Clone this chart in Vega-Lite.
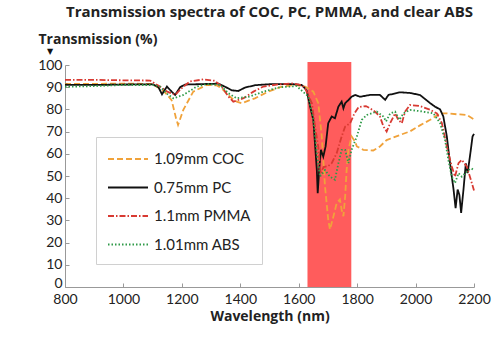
{
  "$schema": "https://vega.github.io/schema/vega-lite/v6.json",
  "width": 409,
  "height": 222,
  "autosize": {"type": "none"},
  "padding": {"left": 65, "top": 65, "right": 26, "bottom": 65},
  "background": "white",
  "title": {"text": "Transmission spectra of COC, PC, PMMA, and clear ABS", "font": "Open Sans", "fontSize": 15, "fontWeight": "bold", "color": "#222", "anchor": "middle", "frame": "group", "offset": 12},
  "config": {
    "view": {"stroke": null},
    "axis": {"labelFont": "Lato", "labelFontSize": 14, "labelColor": "#222", "domainColor": "#999", "tickColor": "#999", "grid": false, "titleFont": "Open Sans", "titleFontWeight": "bold", "titleColor": "#222", "titleFontSize": 14, "labelOverlap": false, "labelFlush": false}
  },
  "datasets": {
    "band": [{"start": 1630, "end": 1780, "low": 0, "high": 101.3}],
    "marker": [{"label": "▼", "wl": 800, "t": 100}],
    "spectra": [
      {"series": "1.09mm COC", "wl": 800, "t": 91.5}, {"series": "1.09mm COC", "wl": 900, "t": 91.5}, {"series": "1.09mm COC", "wl": 1000, "t": 91.6}, {"series": "1.09mm COC", "wl": 1100, "t": 91.5}, {"series": "1.09mm COC", "wl": 1114, "t": 90.2}, {"series": "1.09mm COC", "wl": 1140, "t": 88}, {"series": "1.09mm COC", "wl": 1165, "t": 84.2}, {"series": "1.09mm COC", "wl": 1180, "t": 76}, {"series": "1.09mm COC", "wl": 1187, "t": 73}, {"series": "1.09mm COC", "wl": 1195, "t": 76}, {"series": "1.09mm COC", "wl": 1205, "t": 79.8}, {"series": "1.09mm COC", "wl": 1239, "t": 88}, {"series": "1.09mm COC", "wl": 1285, "t": 91}, {"series": "1.09mm COC", "wl": 1320, "t": 90.8}, {"series": "1.09mm COC", "wl": 1336, "t": 89.5}, {"series": "1.09mm COC", "wl": 1371, "t": 85}, {"series": "1.09mm COC", "wl": 1388, "t": 83.5}, {"series": "1.09mm COC", "wl": 1405, "t": 82.8}, {"series": "1.09mm COC", "wl": 1450, "t": 85}, {"series": "1.09mm COC", "wl": 1496, "t": 88}, {"series": "1.09mm COC", "wl": 1542, "t": 90.3}, {"series": "1.09mm COC", "wl": 1587, "t": 91}, {"series": "1.09mm COC", "wl": 1622, "t": 90.3}, {"series": "1.09mm COC", "wl": 1650, "t": 88}, {"series": "1.09mm COC", "wl": 1667, "t": 82.8}, {"series": "1.09mm COC", "wl": 1679, "t": 67.8}, {"series": "1.09mm COC", "wl": 1690, "t": 45.3}, {"series": "1.09mm COC", "wl": 1701, "t": 30.3}, {"series": "1.09mm COC", "wl": 1707, "t": 25.9}, {"series": "1.09mm COC", "wl": 1719, "t": 31.9}, {"series": "1.09mm COC", "wl": 1730, "t": 37.8}, {"series": "1.09mm COC", "wl": 1741, "t": 39.4}, {"series": "1.09mm COC", "wl": 1747, "t": 34.8}, {"series": "1.09mm COC", "wl": 1753, "t": 31.9}, {"series": "1.09mm COC", "wl": 1759, "t": 40.8}, {"series": "1.09mm COC", "wl": 1764, "t": 52.7}, {"series": "1.09mm COC", "wl": 1770, "t": 61.8}, {"series": "1.09mm COC", "wl": 1781, "t": 67.8}, {"series": "1.09mm COC", "wl": 1793, "t": 65.5}, {"series": "1.09mm COC", "wl": 1799, "t": 63.3}, {"series": "1.09mm COC", "wl": 1810, "t": 62.6}, {"series": "1.09mm COC", "wl": 1821, "t": 61.8}, {"series": "1.09mm COC", "wl": 1855, "t": 61.5}, {"series": "1.09mm COC", "wl": 1878, "t": 63.3}, {"series": "1.09mm COC", "wl": 1901, "t": 66.2}, {"series": "1.09mm COC", "wl": 1947, "t": 68.5}, {"series": "1.09mm COC", "wl": 1981, "t": 70.1}, {"series": "1.09mm COC", "wl": 2015, "t": 72.8}, {"series": "1.09mm COC", "wl": 2050, "t": 75.3}, {"series": "1.09mm COC", "wl": 2084, "t": 78.2}, {"series": "1.09mm COC", "wl": 2107, "t": 78.2}, {"series": "1.09mm COC", "wl": 2141, "t": 77.8}, {"series": "1.09mm COC", "wl": 2152, "t": 77.8}, {"series": "1.09mm COC", "wl": 2175, "t": 77.5}, {"series": "1.09mm COC", "wl": 2200, "t": 75.5},
      {"series": "0.75mm PC", "wl": 800, "t": 91.1}, {"series": "0.75mm PC", "wl": 900, "t": 91}, {"series": "0.75mm PC", "wl": 1000, "t": 91.2}, {"series": "0.75mm PC", "wl": 1100, "t": 91.3}, {"series": "0.75mm PC", "wl": 1120, "t": 90}, {"series": "0.75mm PC", "wl": 1132, "t": 86.8}, {"series": "0.75mm PC", "wl": 1149, "t": 90.3}, {"series": "0.75mm PC", "wl": 1165, "t": 88}, {"series": "0.75mm PC", "wl": 1177, "t": 86.5}, {"series": "0.75mm PC", "wl": 1194, "t": 90}, {"series": "0.75mm PC", "wl": 1211, "t": 91.2}, {"series": "0.75mm PC", "wl": 1300, "t": 91.5}, {"series": "0.75mm PC", "wl": 1325, "t": 91.6}, {"series": "0.75mm PC", "wl": 1348, "t": 90.2}, {"series": "0.75mm PC", "wl": 1371, "t": 88.6}, {"series": "0.75mm PC", "wl": 1393, "t": 88.3}, {"series": "0.75mm PC", "wl": 1416, "t": 89.8}, {"series": "0.75mm PC", "wl": 1450, "t": 90.9}, {"series": "0.75mm PC", "wl": 1507, "t": 91.4}, {"series": "0.75mm PC", "wl": 1576, "t": 91.4}, {"series": "0.75mm PC", "wl": 1610, "t": 91}, {"series": "0.75mm PC", "wl": 1627, "t": 88.7}, {"series": "0.75mm PC", "wl": 1639, "t": 81.3}, {"series": "0.75mm PC", "wl": 1650, "t": 75.3}, {"series": "0.75mm PC", "wl": 1662, "t": 52.7}, {"series": "0.75mm PC", "wl": 1665, "t": 42.3}, {"series": "0.75mm PC", "wl": 1670, "t": 52.7}, {"series": "0.75mm PC", "wl": 1676, "t": 61.8}, {"series": "0.75mm PC", "wl": 1684, "t": 58.7}, {"series": "0.75mm PC", "wl": 1692, "t": 63.3}, {"series": "0.75mm PC", "wl": 1701, "t": 73.8}, {"series": "0.75mm PC", "wl": 1713, "t": 76.8}, {"series": "0.75mm PC", "wl": 1724, "t": 76}, {"series": "0.75mm PC", "wl": 1736, "t": 81.3}, {"series": "0.75mm PC", "wl": 1747, "t": 83.5}, {"series": "0.75mm PC", "wl": 1753, "t": 80.5}, {"series": "0.75mm PC", "wl": 1759, "t": 82.8}, {"series": "0.75mm PC", "wl": 1770, "t": 84.2}, {"series": "0.75mm PC", "wl": 1781, "t": 85.7}, {"series": "0.75mm PC", "wl": 1793, "t": 86.5}, {"series": "0.75mm PC", "wl": 1810, "t": 85.7}, {"series": "0.75mm PC", "wl": 1844, "t": 86.5}, {"series": "0.75mm PC", "wl": 1878, "t": 86.5}, {"series": "0.75mm PC", "wl": 1896, "t": 84.3}, {"series": "0.75mm PC", "wl": 1907, "t": 86.5}, {"series": "0.75mm PC", "wl": 1947, "t": 87.7}, {"series": "0.75mm PC", "wl": 1981, "t": 87.4}, {"series": "0.75mm PC", "wl": 2015, "t": 86.5}, {"series": "0.75mm PC", "wl": 2050, "t": 82.8}, {"series": "0.75mm PC", "wl": 2067, "t": 81.2}, {"series": "0.75mm PC", "wl": 2084, "t": 80}, {"series": "0.75mm PC", "wl": 2095, "t": 76.8}, {"series": "0.75mm PC", "wl": 2107, "t": 67.8}, {"series": "0.75mm PC", "wl": 2118, "t": 55.7}, {"series": "0.75mm PC", "wl": 2130, "t": 43.9}, {"series": "0.75mm PC", "wl": 2137, "t": 35.5}, {"series": "0.75mm PC", "wl": 2144, "t": 43.9}, {"series": "0.75mm PC", "wl": 2150, "t": 41.5}, {"series": "0.75mm PC", "wl": 2156, "t": 33.4}, {"series": "0.75mm PC", "wl": 2164, "t": 43.9}, {"series": "0.75mm PC", "wl": 2172, "t": 55.7}, {"series": "0.75mm PC", "wl": 2178, "t": 51.3}, {"series": "0.75mm PC", "wl": 2186, "t": 58.7}, {"series": "0.75mm PC", "wl": 2195, "t": 67.8}, {"series": "0.75mm PC", "wl": 2200, "t": 69},
      {"series": "1.1mm PMMA", "wl": 800, "t": 93.3}, {"series": "1.1mm PMMA", "wl": 900, "t": 93.3}, {"series": "1.1mm PMMA", "wl": 1000, "t": 93.1}, {"series": "1.1mm PMMA", "wl": 1091, "t": 93}, {"series": "1.1mm PMMA", "wl": 1125, "t": 90.3}, {"series": "1.1mm PMMA", "wl": 1150, "t": 88}, {"series": "1.1mm PMMA", "wl": 1177, "t": 86.5}, {"series": "1.1mm PMMA", "wl": 1199, "t": 89.5}, {"series": "1.1mm PMMA", "wl": 1228, "t": 92.6}, {"series": "1.1mm PMMA", "wl": 1274, "t": 93.5}, {"series": "1.1mm PMMA", "wl": 1313, "t": 92.9}, {"series": "1.1mm PMMA", "wl": 1336, "t": 90.3}, {"series": "1.1mm PMMA", "wl": 1359, "t": 85.8}, {"series": "1.1mm PMMA", "wl": 1376, "t": 83.5}, {"series": "1.1mm PMMA", "wl": 1411, "t": 85}, {"series": "1.1mm PMMA", "wl": 1445, "t": 88}, {"series": "1.1mm PMMA", "wl": 1479, "t": 90.3}, {"series": "1.1mm PMMA", "wl": 1525, "t": 91.2}, {"series": "1.1mm PMMA", "wl": 1576, "t": 91.7}, {"series": "1.1mm PMMA", "wl": 1610, "t": 91}, {"series": "1.1mm PMMA", "wl": 1622, "t": 89.5}, {"series": "1.1mm PMMA", "wl": 1645, "t": 82.8}, {"series": "1.1mm PMMA", "wl": 1656, "t": 72.3}, {"series": "1.1mm PMMA", "wl": 1667, "t": 63}, {"series": "1.1mm PMMA", "wl": 1675, "t": 51}, {"series": "1.1mm PMMA", "wl": 1685, "t": 54}, {"series": "1.1mm PMMA", "wl": 1701, "t": 54.5}, {"series": "1.1mm PMMA", "wl": 1713, "t": 55.8}, {"series": "1.1mm PMMA", "wl": 1730, "t": 60.3}, {"series": "1.1mm PMMA", "wl": 1747, "t": 67.8}, {"series": "1.1mm PMMA", "wl": 1759, "t": 72.3}, {"series": "1.1mm PMMA", "wl": 1776, "t": 73.8}, {"series": "1.1mm PMMA", "wl": 1790, "t": 78}, {"series": "1.1mm PMMA", "wl": 1805, "t": 81}, {"series": "1.1mm PMMA", "wl": 1830, "t": 81.5}, {"series": "1.1mm PMMA", "wl": 1844, "t": 80.5}, {"series": "1.1mm PMMA", "wl": 1861, "t": 79}, {"series": "1.1mm PMMA", "wl": 1878, "t": 76.8}, {"series": "1.1mm PMMA", "wl": 1890, "t": 72.3}, {"series": "1.1mm PMMA", "wl": 1901, "t": 70}, {"series": "1.1mm PMMA", "wl": 1913, "t": 73.8}, {"series": "1.1mm PMMA", "wl": 1930, "t": 78.2}, {"series": "1.1mm PMMA", "wl": 1941, "t": 75.3}, {"series": "1.1mm PMMA", "wl": 1953, "t": 73.8}, {"series": "1.1mm PMMA", "wl": 1964, "t": 79}, {"series": "1.1mm PMMA", "wl": 1981, "t": 82}, {"series": "1.1mm PMMA", "wl": 2015, "t": 81.5}, {"series": "1.1mm PMMA", "wl": 2050, "t": 79.8}, {"series": "1.1mm PMMA", "wl": 2073, "t": 78.2}, {"series": "1.1mm PMMA", "wl": 2090, "t": 73.8}, {"series": "1.1mm PMMA", "wl": 2107, "t": 63.3}, {"series": "1.1mm PMMA", "wl": 2124, "t": 54.3}, {"series": "1.1mm PMMA", "wl": 2135, "t": 49.7}, {"series": "1.1mm PMMA", "wl": 2147, "t": 55.8}, {"series": "1.1mm PMMA", "wl": 2158, "t": 57.3}, {"series": "1.1mm PMMA", "wl": 2175, "t": 54.3}, {"series": "1.1mm PMMA", "wl": 2186, "t": 49.7}, {"series": "1.1mm PMMA", "wl": 2200, "t": 43.5},
      {"series": "1.01mm ABS", "wl": 800, "t": 90.2}, {"series": "1.01mm ABS", "wl": 900, "t": 90.5}, {"series": "1.01mm ABS", "wl": 1000, "t": 91}, {"series": "1.01mm ABS", "wl": 1100, "t": 91}, {"series": "1.01mm ABS", "wl": 1125, "t": 90.3}, {"series": "1.01mm ABS", "wl": 1150, "t": 87}, {"series": "1.01mm ABS", "wl": 1171, "t": 85}, {"series": "1.01mm ABS", "wl": 1205, "t": 86.5}, {"series": "1.01mm ABS", "wl": 1251, "t": 90.3}, {"series": "1.01mm ABS", "wl": 1285, "t": 91.4}, {"series": "1.01mm ABS", "wl": 1331, "t": 91}, {"series": "1.01mm ABS", "wl": 1359, "t": 87.3}, {"series": "1.01mm ABS", "wl": 1388, "t": 85}, {"series": "1.01mm ABS", "wl": 1433, "t": 85.8}, {"series": "1.01mm ABS", "wl": 1479, "t": 88}, {"series": "1.01mm ABS", "wl": 1536, "t": 90}, {"series": "1.01mm ABS", "wl": 1593, "t": 90.5}, {"series": "1.01mm ABS", "wl": 1633, "t": 85.8}, {"series": "1.01mm ABS", "wl": 1650, "t": 75.3}, {"series": "1.01mm ABS", "wl": 1662, "t": 60.3}, {"series": "1.01mm ABS", "wl": 1673, "t": 49.7}, {"series": "1.01mm ABS", "wl": 1690, "t": 52.7}, {"series": "1.01mm ABS", "wl": 1707, "t": 49.7}, {"series": "1.01mm ABS", "wl": 1724, "t": 48.3}, {"series": "1.01mm ABS", "wl": 1736, "t": 55.8}, {"series": "1.01mm ABS", "wl": 1747, "t": 61.8}, {"series": "1.01mm ABS", "wl": 1759, "t": 61.8}, {"series": "1.01mm ABS", "wl": 1770, "t": 55.8}, {"series": "1.01mm ABS", "wl": 1781, "t": 61.8}, {"series": "1.01mm ABS", "wl": 1799, "t": 67.8}, {"series": "1.01mm ABS", "wl": 1816, "t": 75.3}, {"series": "1.01mm ABS", "wl": 1833, "t": 77.5}, {"series": "1.01mm ABS", "wl": 1867, "t": 79}, {"series": "1.01mm ABS", "wl": 1890, "t": 76.8}, {"series": "1.01mm ABS", "wl": 1899, "t": 74.6}, {"series": "1.01mm ABS", "wl": 1913, "t": 78.2}, {"series": "1.01mm ABS", "wl": 1930, "t": 79}, {"series": "1.01mm ABS", "wl": 1945, "t": 75.3}, {"series": "1.01mm ABS", "wl": 1958, "t": 78.2}, {"series": "1.01mm ABS", "wl": 1981, "t": 79.8}, {"series": "1.01mm ABS", "wl": 2015, "t": 79.2}, {"series": "1.01mm ABS", "wl": 2050, "t": 78.5}, {"series": "1.01mm ABS", "wl": 2061, "t": 78.2}, {"series": "1.01mm ABS", "wl": 2084, "t": 73.8}, {"series": "1.01mm ABS", "wl": 2101, "t": 66.2}, {"series": "1.01mm ABS", "wl": 2112, "t": 57.3}, {"series": "1.01mm ABS", "wl": 2124, "t": 49.7}, {"series": "1.01mm ABS", "wl": 2135, "t": 46.8}, {"series": "1.01mm ABS", "wl": 2147, "t": 51.3}, {"series": "1.01mm ABS", "wl": 2158, "t": 49.7}, {"series": "1.01mm ABS", "wl": 2170, "t": 51.3}, {"series": "1.01mm ABS", "wl": 2181, "t": 52.7}, {"series": "1.01mm ABS", "wl": 2192, "t": 53.4}, {"series": "1.01mm ABS", "wl": 2200, "t": 52.5}
    ]
  },
  "layer": [
    {
      "data": {"name": "band"},
      "mark": {"type": "rect", "color": "#ff5c5c"},
      "encoding": {
        "x": {"field": "start", "type": "quantitative", "scale": {"domain": [800, 2200], "nice": false},
          "axis": {"values": [800, 1000, 1200, 1400, 1600, 1800, 2000, 2200], "tickCount": 20, "title": "Wavelength (nm)", "tickSize": -4, "labelPadding": 9, "titleY": 33.5, "titleBaseline": "alphabetic", "format": "d", "labelOverlap": false}},
        "x2": {"field": "end"},
        "y": {"field": "low", "type": "quantitative", "scale": {"domain": [0, 100], "nice": false},
          "axis": {"values": [0, 10, 20, 30, 40, 50, 60, 70, 80, 90, 100], "tickCount": 20, "title": "Transmission (%)", "tickSize": -4, "labelPadding": 7, "titleAngle": 0, "titleAlign": "left", "titleBaseline": "alphabetic", "titleX": -27, "titleY": -22, "labelOverlap": false, "format": "d", "labelOffset": {"condition": {"test": "datum.value == 0", "value": -4}, "value": 0}}},
        "y2": {"field": "high"}
      }
    },
    {
      "data": {"name": "spectra"},
      "mark": {"type": "line", "strokeCap": "butt"},
      "encoding": {
        "x": {"field": "wl", "type": "quantitative", "scale": {"domain": [800, 2200], "nice": false},
          "axis": {"values": [800, 1000, 1200, 1400, 1600, 1800, 2000, 2200], "tickCount": 20, "title": "Wavelength (nm)", "tickSize": -4, "labelPadding": 9, "titleY": 33.5, "titleBaseline": "alphabetic", "format": "d", "labelOverlap": false}},
        "y": {"field": "t", "type": "quantitative", "scale": {"domain": [0, 100], "nice": false},
          "axis": {"values": [0, 10, 20, 30, 40, 50, 60, 70, 80, 90, 100], "tickCount": 20, "title": "Transmission (%)", "tickSize": -4, "labelPadding": 7, "titleAngle": 0, "titleAlign": "left", "titleBaseline": "alphabetic", "titleX": -27, "titleY": -22, "labelOverlap": false, "format": "d", "labelOffset": {"condition": {"test": "datum.value == 0", "value": -4}, "value": 0}}},
        "color": {"field": "series", "type": "nominal", "scale": {"domain": ["1.09mm COC", "0.75mm PC", "1.1mm PMMA", "1.01mm ABS"], "range": ["#f0a23a", "#111111", "#d83a32", "#2f9a48"]},
          "legend": {"title": null, "orient": "none", "legendX": 31, "legendY": 72, "fillColor": "white", "strokeColor": "#d0d0d0", "padding": 11, "symbolType": "M-1,0H3", "symbolSize": 400, "symbolStrokeWidth": 2, "labelFont": "Lato", "labelFontSize": 15, "labelColor": "#222", "labelOffset": 25, "rowPadding": 9.5}},
        "strokeDash": {"field": "series", "type": "nominal", "scale": {"domain": ["1.09mm COC", "0.75mm PC", "1.1mm PMMA", "1.01mm ABS"], "range": [[6, 3], [1, 0], [6, 2, 1.5, 2], [1.5, 2]]},
          "legend": {"title": null, "orient": "none", "legendX": 31, "legendY": 72, "fillColor": "white", "strokeColor": "#d0d0d0", "padding": 11, "symbolType": "M-1,0H3", "symbolSize": 400, "symbolStrokeWidth": 2, "labelFont": "Lato", "labelFontSize": 15, "labelColor": "#222", "labelOffset": 25, "rowPadding": 9.5}},
        "strokeWidth": {"value": 1.8}
      }
    },
    {
      "data": {"name": "marker"},
      "mark": {"type": "text", "font": "DejaVu Sans", "fontSize": 8, "color": "#111", "dx": -15, "dy": -13},
      "encoding": {
        "x": {"field": "wl", "type": "quantitative"},
        "y": {"field": "t", "type": "quantitative"},
        "text": {"field": "label"}
      }
    }
  ]
}
